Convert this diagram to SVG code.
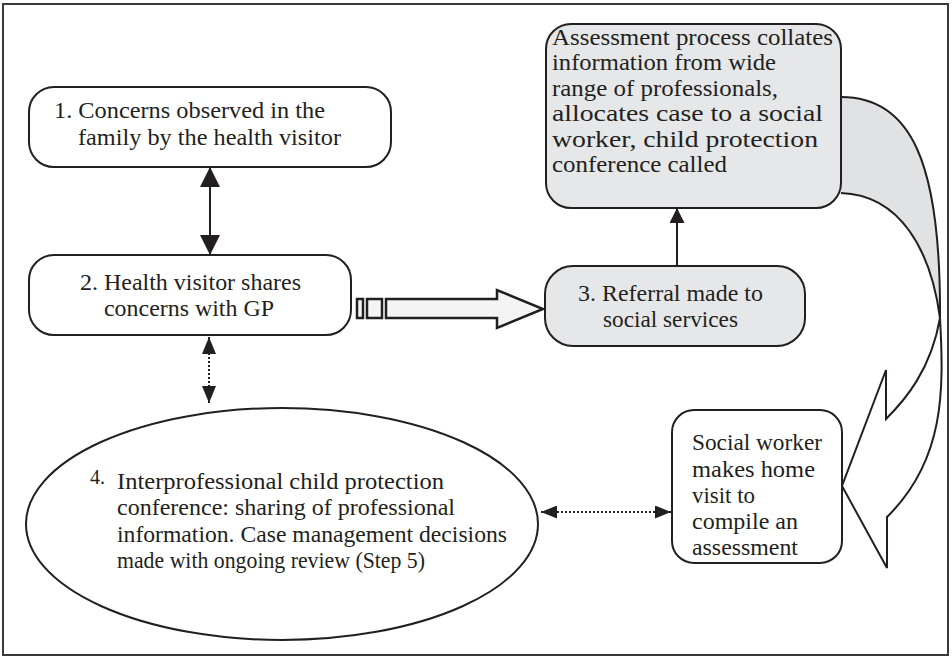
<svg xmlns="http://www.w3.org/2000/svg" width="952" height="659" viewBox="0 0 952 659">
<defs>
<style>
text{font-family:"Liberation Serif","Times New Roman",serif;font-size:23px;fill:#231f20}
.box{stroke:#231f20;stroke-width:2;fill:#ffffff}
.grey{fill:#e6e7e8}
.ln{stroke:#231f20;stroke-width:2;fill:none}
.dot{stroke:#231f20;stroke-width:2;fill:none;stroke-dasharray:2 2}
.mid{text-anchor:middle}
</style>
<marker id="bigHead" markerUnits="userSpaceOnUse" markerWidth="20" markerHeight="20" refX="20" refY="10" orient="auto-start-reverse" viewBox="0 0 20 20"><path d="M0,0 L20,10 L0,20 Z" fill="#231f20"/></marker>
<marker id="smallHead" markerUnits="userSpaceOnUse" markerWidth="17" markerHeight="14" refX="17" refY="7" orient="auto-start-reverse" viewBox="0 0 17 14"><path d="M0,0 L17,7 L0,14 Z" fill="#231f20"/></marker>
<marker id="hHead" markerUnits="userSpaceOnUse" markerWidth="16" markerHeight="13" refX="16" refY="6.5" orient="auto-start-reverse" viewBox="0 0 16 13"><path d="M0,0 L16,6.5 L0,13 Z" fill="#231f20"/></marker>
<marker id="upHead" markerUnits="userSpaceOnUse" markerWidth="15" markerHeight="15" refX="15" refY="7.5" orient="auto" viewBox="0 0 15 15"><path d="M0,0 L15,7.5 L0,15 Z" fill="#231f20"/></marker>
</defs>
<rect x="3" y="4" width="945" height="651" fill="#ffffff" stroke="#3a3a3a" stroke-width="2"/>

<g id="connectors">
<line class="ln" x1="210" y1="167" x2="210" y2="255" marker-start="url(#bigHead)" marker-end="url(#bigHead)"/>
<line class="dot" x1="209" y1="337" x2="209" y2="403" marker-start="url(#smallHead)" marker-end="url(#smallHead)"/>
<line class="dot" x1="541" y1="512" x2="671" y2="512" marker-start="url(#hHead)" marker-end="url(#hHead)"/>
<line class="ln" x1="677" y1="266" x2="677" y2="208" marker-end="url(#upHead)"/>
<g id="striped-arrow" fill="#f4f4f4" stroke="#231f20" stroke-width="2.5" stroke-linejoin="miter">
<rect x="357" y="299" width="6" height="19"/>
<rect x="367" y="299" width="15" height="19"/>
<path d="M386,299 L497,299 L497,290 L543,309 L497,328 L497,318 L386,318 Z"/>
</g>
<g id="curved-arrow">
<path d="M841,97 C910,97 941,160 940,318 C931,250 900,195 841,193 Z" fill="#e1e2e4"/>
<path class="ln" d="M841,97 C910,97 941,160 940,318"/>
<path class="ln" d="M841,193 C900,195 931,250 940,318"/>
<path d="M940,318 C944,390 945,460 887,517 L887,568 L842,486 L886,370 L886,419 C905,400 931,370 940,318 Z" fill="#ffffff" stroke="#231f20" stroke-width="2" stroke-linejoin="miter"/>
</g>
</g>

<g id="node1">
<rect class="box" x="29" y="87" width="362" height="80" rx="25"/>
<text x="54" y="118" textLength="271" lengthAdjust="spacingAndGlyphs">1. Concerns observed in the</text>
<text x="78" y="145" textLength="263" lengthAdjust="spacingAndGlyphs">family by the health visitor</text>
</g>

<g id="node2">
<rect class="box" x="29" y="255" width="322" height="80" rx="25"/>
<text x="80" y="290" textLength="221" lengthAdjust="spacingAndGlyphs">2. Health visitor shares</text>
<text x="104" y="316" textLength="170" lengthAdjust="spacingAndGlyphs">concerns with GP</text>
</g>

<g id="node3">
<rect class="box grey" x="545" y="266" width="260" height="80" rx="28"/>
<text class="mid" x="670.5" y="301" textLength="185" lengthAdjust="spacingAndGlyphs">3. Referral made to</text>
<text class="mid" x="670.5" y="327" textLength="135" lengthAdjust="spacingAndGlyphs">social services</text>
</g>

<g id="nodeAssessment">
<rect class="box grey" x="546" y="24" width="295" height="184" rx="25"/>
<text x="552" y="45" textLength="281" lengthAdjust="spacingAndGlyphs">Assessment process collates</text>
<text x="552" y="70" textLength="224" lengthAdjust="spacingAndGlyphs">information from wide</text>
<text x="552" y="95.5" textLength="226" lengthAdjust="spacingAndGlyphs">range of professionals,</text>
<text x="552" y="121" textLength="271" lengthAdjust="spacingAndGlyphs">allocates case to a social</text>
<text x="552" y="146.5" textLength="266" lengthAdjust="spacingAndGlyphs">worker, child protection</text>
<text x="552" y="172" textLength="175" lengthAdjust="spacingAndGlyphs">conference called</text>
</g>

<g id="nodeSocialWorker">
<rect class="box" x="672" y="410" width="170" height="153" rx="22"/>
<text x="692" y="450" textLength="130" lengthAdjust="spacingAndGlyphs">Social worker</text>
<text x="692" y="477" textLength="123" lengthAdjust="spacingAndGlyphs">makes home</text>
<text x="692" y="503" textLength="63" lengthAdjust="spacingAndGlyphs">visit to</text>
<text x="692" y="529" textLength="106" lengthAdjust="spacingAndGlyphs">compile an</text>
<text x="692" y="555" textLength="106" lengthAdjust="spacingAndGlyphs">assessment</text>
</g>

<g id="node4">
<ellipse class="box" cx="282" cy="524" rx="256" ry="116"/>
<text x="90" y="484" style="font-size:20px">4.</text>
<text x="117" y="489" textLength="327" lengthAdjust="spacingAndGlyphs">Interprofessional child protection</text>
<text x="117" y="515" textLength="338" lengthAdjust="spacingAndGlyphs">conference: sharing of professional</text>
<text x="117" y="542" textLength="390" lengthAdjust="spacingAndGlyphs">information. Case management decisions</text>
<text x="117" y="568" textLength="308" lengthAdjust="spacingAndGlyphs">made with ongoing review (Step 5)</text>
</g>
</svg>
